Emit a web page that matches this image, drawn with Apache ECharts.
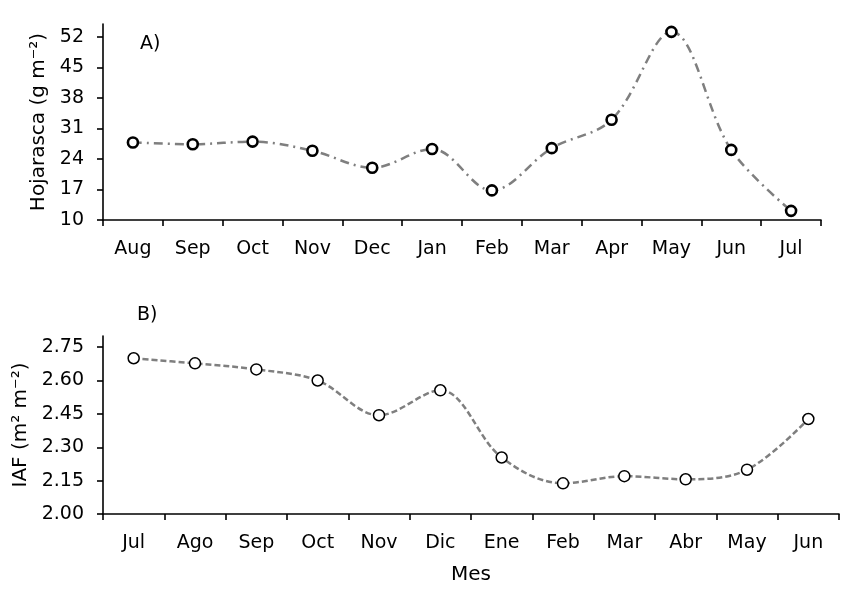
<!DOCTYPE html>
<html>
<head>
<meta charset="utf-8">
<script src="https://cdn.jsdelivr.net/npm/echarts@6/dist/echarts.min.js"></script>
<style>
html,body{margin:0;padding:0;background:#fff;}
#chart{width:855px;height:593px;}
</style>
</head>
<body>
<div id="chart"></div>
<script>
const monthsA = ['Aug','Sep','Oct','Nov','Dec','Jan','Feb','Mar','Apr','May','Jun','Jul'];
const hojarasca = [27.8, 27.4, 28.0, 25.9, 22.0, 26.3, 16.8, 26.5, 33.0, 53.2, 26.1, 12.1];
const yTicksA = [10, 17, 24, 31, 38, 45, 52];

const monthsB = ['Jul','Ago','Sep','Oct','Nov','Dic','Ene','Feb','Mar','Abr','May','Jun'];
const iaf = [2.70, 2.677, 2.650, 2.600, 2.444, 2.556, 2.254, 2.138, 2.170, 2.156, 2.199, 2.427];
const yTicksB = [2.00, 2.15, 2.30, 2.45, 2.60, 2.75];

const FONT = 'DejaVu Sans';
const axisLineStyle = {color:'#000', width:1.6};
const chart = echarts.init(document.getElementById('chart'), null, {renderer:'canvas'});

chart.setOption({
  animation:false,
  backgroundColor:'#fff',
  textStyle:{fontFamily:FONT, color:'#000'},
  grid:[
    {left:103, top:24, width:718, height:196},
    {left:103, top:336, width:736, height:178}
  ],
  xAxis:[
    {type:'category', gridIndex:0, data:monthsA, boundaryGap:true,
     axisLine:{lineStyle:axisLineStyle}, axisTick:{show:true, length:6, lineStyle:axisLineStyle},
     axisLabel:{fontFamily:FONT, fontSize:19, color:'#000', margin:20, interval:0},
     splitLine:{show:false}},
    {type:'category', gridIndex:1, data:monthsB, boundaryGap:true,
     name:'Mes', nameLocation:'middle', nameGap:51,
     nameTextStyle:{fontFamily:FONT, fontSize:20, color:'#000'},
     axisLine:{lineStyle:axisLineStyle}, axisTick:{show:true, length:6, lineStyle:axisLineStyle},
     axisLabel:{fontFamily:FONT, fontSize:19, color:'#000', margin:20, interval:0},
     splitLine:{show:false}}
  ],
  yAxis:[
    {type:'value', gridIndex:0, min:10, max:55,
     name:'Hojarasca (g m\u207B\u00B2)', nameLocation:'middle', nameGap:51,
     nameTextStyle:{fontFamily:FONT, fontSize:20, color:'#000'},
     axisLine:{show:true, lineStyle:axisLineStyle},
     axisTick:{show:true, length:6, lineStyle:axisLineStyle, customValues:yTicksA},
     axisLabel:{fontFamily:FONT, fontSize:19, color:'#000', margin:19, customValues:yTicksA},
     splitLine:{show:false}},
    {type:'value', gridIndex:1, min:2.0, max:2.8,
     name:'IAF (m\u00B2 m\u207B\u00B2)', nameLocation:'middle', nameGap:70,
     nameTextStyle:{fontFamily:FONT, fontSize:20, color:'#000'},
     axisLine:{show:true, lineStyle:axisLineStyle},
     axisTick:{show:true, length:6, lineStyle:axisLineStyle, customValues:yTicksB},
     axisLabel:{fontFamily:FONT, fontSize:19, color:'#000', margin:19, customValues:yTicksB,
       formatter:function(v){return v.toFixed(2);}},
     splitLine:{show:false}}
  ],
  graphic:[
    {type:'text', left:140, top:35, style:{text:'A)', font:'19px "DejaVu Sans"', fill:'#000'}},
    {type:'text', left:137, top:306, style:{text:'B)', font:'19px "DejaVu Sans"', fill:'#000'}}
  ],
  series:[
    {type:'line', xAxisIndex:0, yAxisIndex:0, data:hojarasca, smooth:0.35,
     symbol:'circle', symbolSize:10,
     lineStyle:{color:'#7f7f7f', width:2.5, type:[9,5,2,5]},
     itemStyle:{color:'#fff', borderColor:'#000', borderWidth:2.6}},
    {type:'line', xAxisIndex:1, yAxisIndex:1, data:iaf, smooth:0.35,
     symbol:'circle', symbolSize:11,
     lineStyle:{color:'#7f7f7f', width:2.5, type:[6,3]},
     itemStyle:{color:'#fff', borderColor:'#000', borderWidth:1.5}}
  ]
});
</script>
</body>
</html>
